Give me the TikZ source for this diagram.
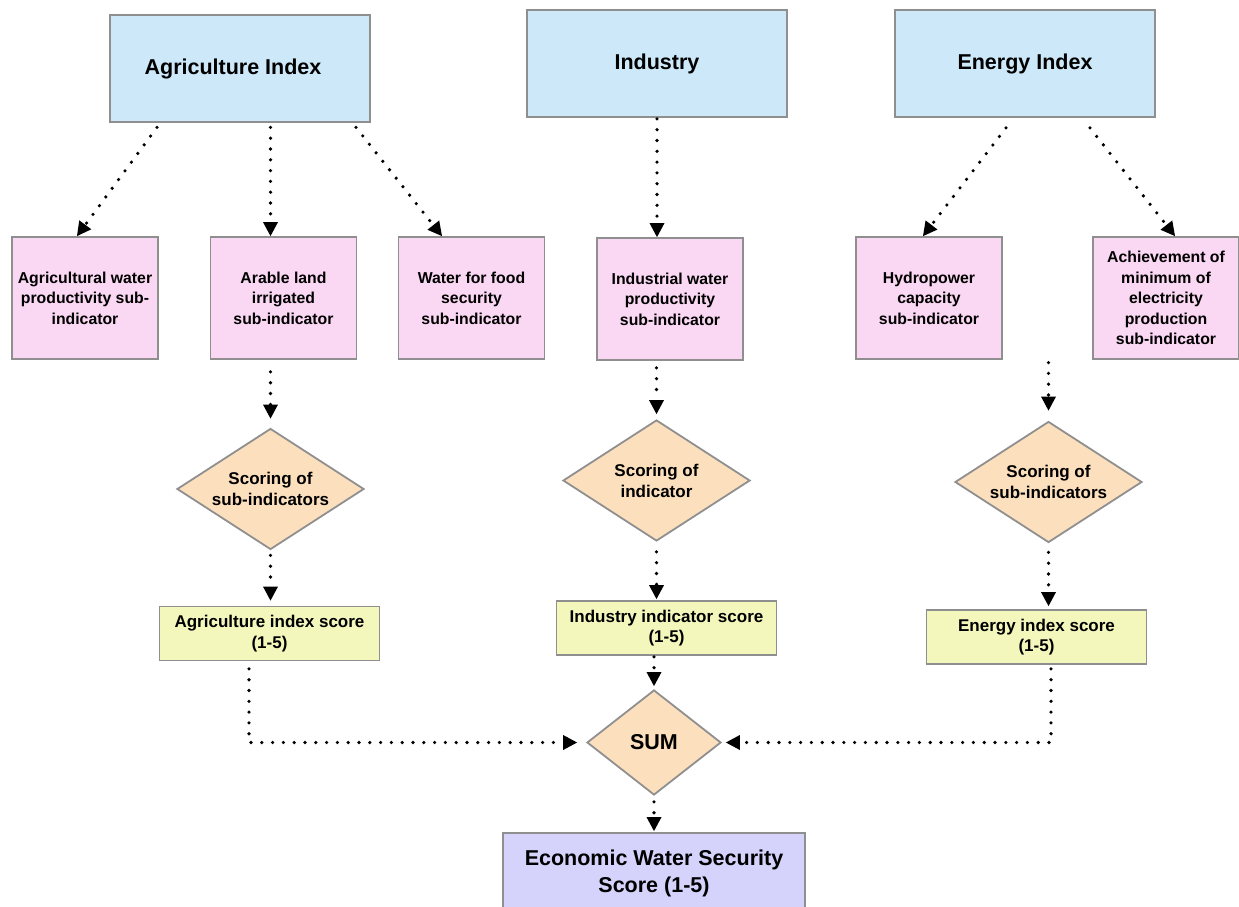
\documentclass[tikz,border=0pt]{standalone}
\usepackage{fontspec}
\setmainfont{Liberation Sans}
\usetikzlibrary{arrows.meta,shapes.geometric}
\definecolor{hdrblue}{HTML}{CDE8F8}
\definecolor{subpink}{HTML}{FAD7F2}
\definecolor{scoreorange}{HTML}{FCE0BE}
\definecolor{resultyellow}{HTML}{F3F7BC}
\definecolor{finalpurple}{HTML}{D5D3FC}
\definecolor{edgegray}{HTML}{8F8F8F}
\begin{document}
\begin{tikzpicture}[x=1pt,y=-1pt,
  box/.style={draw=edgegray, line width=1.8pt, inner sep=0pt, align=center, text=black},
  header/.style={box, fill=hdrblue, minimum width=260pt, minimum height=107pt,
    font=\bfseries\fontsize{21.5}{27}\selectfont},
  subbox/.style={box, fill=subpink, minimum width=146pt, minimum height=122pt,
    font=\bfseries\fontsize{15.8}{20.5}\selectfont},
  decision/.style={box, diamond, aspect=1.55, fill=scoreorange, minimum width=187pt, minimum height=121pt,
    font=\bfseries\fontsize{17}{21}\selectfont},
  result/.style={box, fill=resultyellow, minimum width=220pt, minimum height=54pt,
    font=\bfseries\fontsize{17}{20.5}\selectfont},
  final/.style={box, fill=finalpurple, minimum width=302pt, minimum height=80pt,
    font=\bfseries\fontsize{21.5}{27}\selectfont},
  conn/.style={line width=3.6pt, line cap=round, dash pattern=on 0pt off 10.8pt,
    -{Triangle[width=15pt,length=14pt,line width=0pt]}}
]
\useasboundingbox (0,0) rectangle (1239,907);

% index boxes
\node[header] (agri)   at (240,68.5)  {Agriculture Index\hspace*{14pt}};
\node[header] (ind)    at (657,63.5)  {Industry};
\node[header] (energy) at (1025,63.5) {Energy Index};

% sub-indicators
\node[subbox] (agw)    at (85,298)    {Agricultural water\\productivity sub-\\indicator};
\node[subbox] (arable) at (283.5,298) {Arable land\\irrigated\\sub-indicator};
\node[subbox] (food)   at (471.5,298) {Water for food\\security\\sub-indicator};
\node[subbox] (indw)   at (670,299)   {Industrial water\\productivity\\sub-indicator};
\node[subbox] (hydro)  at (929,298)   {Hydropower\\capacity\\sub-indicator};
\node[subbox] (ach)    at (1166,298)  {Achievement of\\minimum of\\electricity\\production\\sub-indicator};

% scoring
\node[decision] (d1) at (270.5,489)  {Scoring of\\sub-indicators};
\node[decision] (d2) at (656.5,480.5) {Scoring of\\indicator};
\node[decision] (d3) at (1048.5,482) {Scoring of\\sub-indicators};

% scores
\node[result] (y1) at (269.5,633.5) {Agriculture index score\\(1-5)};
\node[result] (y2) at (666.5,628)   {Industry indicator score\\(1-5)};
\node[result] (y3) at (1036.5,637)  {Energy index score\\(1-5)};

% aggregation
\node[decision, aspect=1.28, minimum width=134pt, minimum height=105pt,
  font=\bfseries\fontsize{21.5}{27}\selectfont] (sum) at (654,742.5) {SUM};
\node[final] (eco) at (654,873) {Economic Water Security\\Score (1-5)};

% index -> sub-indicators
\draw[conn] ([xshift=-83pt,yshift=-4.5pt]agri.south) -- ([xshift=-8pt]agw.north);
\draw[conn] ([xshift=30.5pt,yshift=-4.5pt]agri.south) -- ([xshift=-13pt]arable.north);
\draw[conn] ([xshift=116pt,yshift=-4.5pt]agri.south) -- ([xshift=-29.5pt]food.north);
\draw[conn] ([yshift=-1pt]ind.south) -- ([xshift=-13pt]indw.north);
\draw[conn] ([xshift=-19pt,yshift=-10pt]energy.south) -- ([xshift=-6pt]hydro.north);
\draw[conn] ([xshift=65pt,yshift=-10pt]energy.south) -- ([xshift=9pt]ach.north);

% sub-indicators -> scoring
\draw[conn] ([xshift=-13pt,yshift=-12pt]arable.south) -- ([yshift=9pt]d1.north);
\draw[conn] ([xshift=-13.5pt,yshift=-7pt]indw.south) -- ([yshift=5pt]d2.north);
\draw[conn] ([yshift=58pt]d3.north) -- ([yshift=10pt]d3.north);

% scoring -> scores
\draw[conn] ([yshift=-5pt]d1.south) -- ([yshift=5pt]d1.south |- y1.north);
\draw[conn] ([yshift=-10pt]d2.south) -- ([yshift=1pt]d2.south |- y2.north);
\draw[conn] ([yshift=-9pt]d3.south) -- ([yshift=3pt]d3.south |- y3.north);

% scores -> sum -> final score
\draw[conn] ([xshift=-20.5pt,yshift=-7.5pt]y1.south) |- ([xshift=-9pt]sum.west);
\draw[conn] ([xshift=14.5pt,yshift=-4pt]y3.south) |- ([xshift=4pt]sum.east);
\draw[conn] ([yshift=-1pt]sum.north |- y2.south) -- ([yshift=3pt]sum.north);
\draw[conn] ([yshift=-6pt]sum.south) -- ([yshift=1pt]sum.south |- eco.north);
\end{tikzpicture}
\end{document}
